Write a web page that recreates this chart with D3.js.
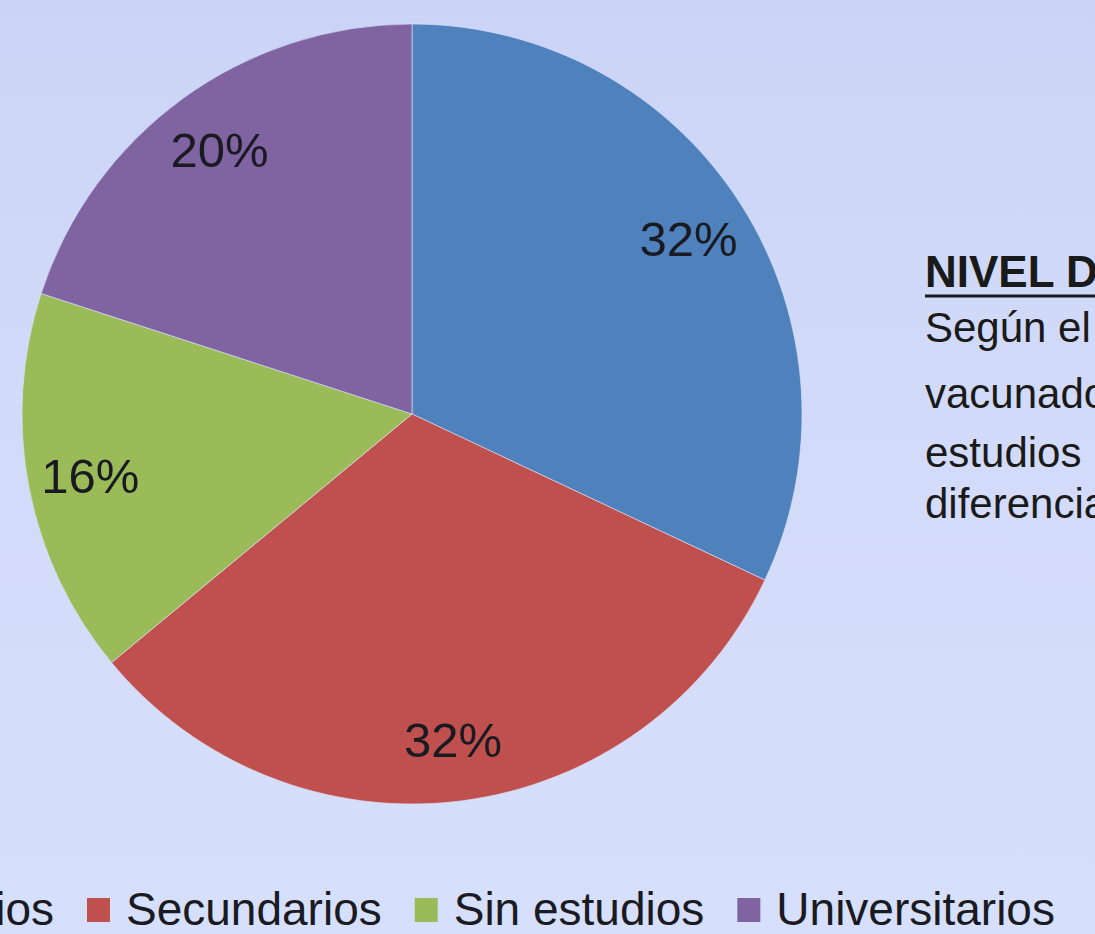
<!DOCTYPE html>
<html>
<head>
<meta charset="utf-8">
<script src="https://cdn.jsdelivr.net/npm/d3@7"></script>
<style>
  body { margin: 0; overflow: hidden; }
  svg { display: block; }
</style>
</head>
<body>
<svg id="chart"></svg>
<script>
let categories = ['Primarios', 'Secundarios', 'Sin estudios', 'Universitarios'];
let values = [32, 32, 16, 20];
let colors = ['#4f81bd', '#c0504d', '#9bbb59', '#8064a2'];
let side_title = 'NIVEL DE ESTUDIOS';
let side_lines = ['Según el', 'vacunados', 'estudios', 'diferencias'];

let width = 1095;
let height = 934;
let cx = 412;
let cy = 414;
let radius = 390;

let svg = d3.select('#chart')
    .attr('width', width)
    .attr('height', height);

let grad = svg.append('defs').append('linearGradient')
    .attr('id', 'bg')
    .attr('x1', 0).attr('y1', 0).attr('x2', 0).attr('y2', 1);
grad.append('stop').attr('offset', '0%').attr('stop-color', '#cbd4f6');
grad.append('stop').attr('offset', '40%').attr('stop-color', '#d2daf9');
grad.append('stop').attr('offset', '100%').attr('stop-color', '#d6dffb');

svg.append('rect')
    .attr('width', width)
    .attr('height', height)
    .attr('fill', 'url(#bg)');

let color = d3.scaleOrdinal().domain(categories).range(colors);

let pie = d3.pie().sort(null).value(d => d.value);
let arcs = pie(categories.map((c, i) => ({ name: c, value: values[i] })));

let arc = d3.arc().innerRadius(0).outerRadius(radius);
let label_arc = d3.arc().innerRadius(radius * 0.84).outerRadius(radius * 0.84);

let g = svg.append('g').attr('transform', 'translate(' + cx + ',' + cy + ')');

g.selectAll('path').data(arcs).enter().append('path')
    .attr('d', arc)
    .attr('fill', d => color(d.data.name))
    .attr('stroke', 'rgba(220,228,255,0.6)')
    .attr('stroke-width', 1);

let total = d3.sum(values);
g.selectAll('text.pct').data(arcs).enter().append('text')
    .attr('class', 'pct')
    .attr('transform', d => 'translate(' + label_arc.centroid(d) + ')')
    .attr('text-anchor', 'middle')
    .attr('dy', '0.36em')
    .attr('font-family', '"Liberation Sans", Arial, sans-serif')
    .attr('font-size', 49)
    .attr('fill', '#1a1a22')
    .text(d => Math.round(d.data.value / total * 100) + '%');

// legend, laid out from measured text widths
let legend = svg.append('g').attr('transform', 'translate(0,925)');
let items = legend.selectAll('g').data(categories).enter().append('g');
items.append('rect')
    .attr('y', -27)
    .attr('width', 23)
    .attr('height', 24)
    .attr('fill', d => color(d));
items.append('text')
    .attr('x', 39)
    .attr('font-family', '"Liberation Sans", Arial, sans-serif')
    .attr('font-size', 46)
    .attr('fill', '#1a1a22')
    .text(d => d);

let widths = [];
items.select('text').each(function() { widths.push(this.getComputedTextLength()); });
let offsets = [0];
for (let i = 1; i < widths.length; i++) {
    offsets.push(offsets[i - 1] + 39 + widths[i - 1] + 33);
}
let shift = 87 - offsets[1];
items.attr('transform', (d, i) => 'translate(' + (offsets[i] + shift) + ',0)');

// side text
let side = svg.append('g').attr('font-family', '"Liberation Sans", Arial, sans-serif').attr('fill', '#1a1a1a');
let title = side.append('text')
    .attr('x', 925)
    .attr('y', 287)
    .attr('font-size', 44)
    .attr('font-weight', 'bold')
    .text(side_title);
side.append('line')
    .attr('x1', 925).attr('x2', 925 + title.node().getComputedTextLength())
    .attr('y1', 296).attr('y2', 296)
    .attr('stroke', '#1a1a1a')
    .attr('stroke-width', 3);

let line_y = [342, 408, 467, 518];
side.selectAll('text.line').data(side_lines).enter().append('text')
    .attr('class', 'line')
    .attr('x', 925)
    .attr('y', (d, i) => line_y[i])
    .attr('font-size', 42)
    .text(d => d);
</script>
</body>
</html>
